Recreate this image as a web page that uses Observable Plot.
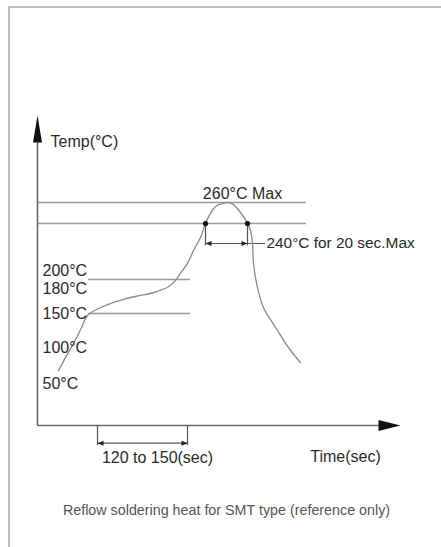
<!DOCTYPE html>
<html><head><meta charset="utf-8">
<script src="https://cdn.jsdelivr.net/npm/d3@7"></script>
<script src="https://cdn.jsdelivr.net/npm/@observablehq/plot@0.6"></script>
<style>
html,body{margin:0;padding:0;background:#fff;}
#wrap{position:relative;width:441px;height:547px;overflow:hidden;}
#chart{position:absolute;left:0;top:0;}
#border{position:absolute;left:8px;top:6px;width:600px;height:700px;border-left:2px solid #bdbdbd;border-top:2px solid #bdbdbd;pointer-events:none;}
</style></head><body>
<div id="wrap"><div id="chart"></div><div id="border"></div></div>
<script>
// ---- data (time in s from the axis origin, temperature in °C) ----
const curveTime = [21,28,36,43,50,61,73,86,100,113,123,131,138,143,150,156,163,168,172,176,181,185,191,196,200,205,210,213,215,216,220,226,233,240,251,263];
const curveTemp = [68,86,106,126,147,156,162,167,171,174,178,182,189,197,206,217,228,240,248,254,258,259,260,258,254,248,240,234,223,206,181,157,141,125,100,79];

const tempTicks = [50, 100, 150, 180, 200];
const tempTickLabels = ["50°C", "100°C", "150°C", "180°C", "200°C"];
const limitTemps = [260, 240];          // peak and hold reference lines
const limitEndTime = 269;
const preheatTemps = [150, 190];        // preheat band lines
const preheatTimes = [51, 153];
const holdTemp = 240;
const holdTimes = [168, 210];           // time above 240°C
const soakTimes = [60, 150];            // 120 to 150 sec window
const axisTimeMax = 363;
const axisTempMax = 310;

const texts = {
  yTitle: "Temp(°C)",
  xTitle: "Time(sec)",
  peak: "260°C Max",
  hold: "240°C for 20 sec.Max",
  soak: "120 to 150(sec)",
  caption: "Reflow soldering heat for SMT type (reference only)"
};

// ---- drawing ----
const FONT = '"Liberation Sans",Arial,sans-serif';
const curve = curveTime.map((t, i) => ({t, temp: curveTemp[i]}));
const tri = (hw) => ({draw(ctx, l) { ctx.moveTo(0, -l); ctx.lineTo(-hw, 0); ctx.lineTo(hw, 0); ctx.closePath(); }});
const holdDim = 223, soakDim = -21, soakTick = -24;
const axisCol = "#6a6a6a", lineCol = "#9a9a9a", txtCol = "#2a2a2a";
// schematic (non-uniform) temperature axis of the original drawing
const tempWarp = d3.scaleLinear()
  .domain([0, 50, 100, 150, 180, 200, 240, 260, 310])
  .range([425, 383, 347, 313, 288, 270, 223, 202, 115]);

const chart = Plot.plot({
  width: 441, height: 547,
  margin: 0,
  style: {background: "transparent", fontFamily: FONT},
  x: {domain: [0, axisTimeMax], range: [37, 400], axis: null},
  y: {type: "linear", transform: tempWarp, domain: [0, 547], range: [0, 547], axis: null},
  marks: [
    Plot.ruleY(limitTemps, {x1: 0, x2: limitEndTime, stroke: lineCol, strokeWidth: 1.5}),
    Plot.ruleY(preheatTemps, {x1: preheatTimes[0], x2: preheatTimes[1], stroke: lineCol, strokeWidth: 1.5}),
    Plot.ruleX([0], {y1: 0, y2: 297, stroke: axisCol, strokeWidth: 1.6}),
    Plot.ruleY([0], {x1: 0, x2: 345, stroke: axisCol, strokeWidth: 1.6}),
    Plot.vector([{t: 0, temp: axisTempMax}], {x: "t", y: "temp", length: 27, rotate: 0, anchor: "end", shape: tri(4.5), fill: "#111", stroke: "none"}),
    Plot.vector([{t: axisTimeMax, temp: 0}], {x: "t", y: "temp", length: 22, rotate: 90, anchor: "end", shape: tri(5.5), fill: "#111", stroke: "none"}),
    // hold-time dimension
    Plot.ruleX(holdTimes, {y1: holdTemp, y2: holdDim - 2, stroke: "#555", strokeWidth: 1.2}),
    Plot.ruleY([holdDim], {x1: holdTimes[0], x2: 228, stroke: "#555", strokeWidth: 1.2}),
    Plot.vector([{t: holdTimes[0], temp: holdDim, r: -90}, {t: holdTimes[1], temp: holdDim, r: 90}], {x: "t", y: "temp", rotate: "r", length: 6, anchor: "end", shape: tri(2.5), fill: "#222", stroke: "none"}),
    // soak dimension
    Plot.ruleX(soakTimes, {y1: 0, y2: soakTick, stroke: "#555", strokeWidth: 1.2}),
    Plot.ruleY([soakDim], {x1: soakTimes[0], x2: soakTimes[1], stroke: "#555", strokeWidth: 1.2}),
    Plot.vector([{t: soakTimes[0], temp: soakDim, r: -90}, {t: soakTimes[1], temp: soakDim, r: 90}], {x: "t", y: "temp", rotate: "r", length: 6, anchor: "end", shape: tri(2.5), fill: "#222", stroke: "none"}),
    // curve
    Plot.line(curve, {x: "t", y: "temp", curve: "catmull-rom", stroke: "#8a8a8a", strokeWidth: 1.3}),
    Plot.dot(holdTimes, {x: d => d, y: () => holdTemp, r: 2.6, fill: "#111"}),
    // texts
    Plot.text(tempTicks, {x: () => 5, y: d => d, text: (d, i) => tempTickLabels[i], textAnchor: "start", fontSize: 16, fill: txtCol, fontFamily: FONT}),
    Plot.text([texts.yTitle], {x: () => 13, y: () => 295, text: d => d, textAnchor: "start", fontSize: 16, fill: txtCol, fontFamily: FONT}),
    Plot.text([texts.peak], {x: () => 205, y: () => 265, text: d => d, fontSize: 16, fill: txtCol, fontFamily: FONT}),
    Plot.text([texts.hold], {x: () => 229, y: () => holdDim, text: d => d, textAnchor: "start", fontSize: 15.4, fill: txtCol, fontFamily: FONT}),
    Plot.text([texts.soak], {x: () => 120, y: () => -39, text: d => d, fontSize: 16, fill: txtCol, fontFamily: FONT}),
    Plot.text([texts.xTitle], {x: () => 308, y: () => -37, text: d => d, fontSize: 16, fill: txtCol, fontFamily: FONT}),
    Plot.text([texts.caption], {x: () => 189, y: () => -101, text: d => d, fontSize: 14.3, fill: "#555", fontFamily: FONT})
  ]
});
document.getElementById("chart").appendChild(chart);
</script>
</body></html>
